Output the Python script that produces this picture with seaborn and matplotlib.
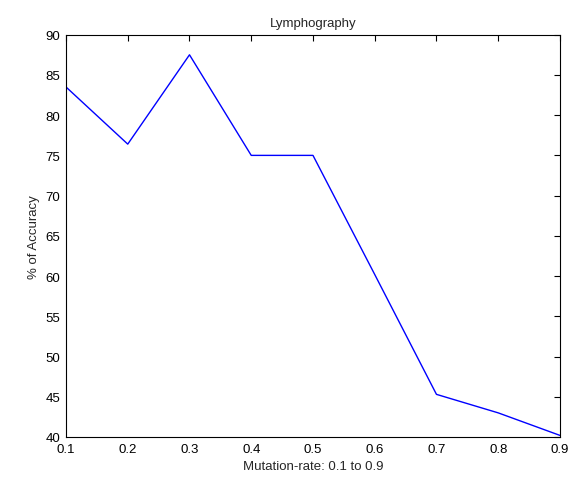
import matplotlib
matplotlib.use("Agg")
import matplotlib.pyplot as plt
import pandas as pd
import seaborn as sns

# Valeurs
mutation_rate = [0.1, 0.2, 0.3, 0.4, 0.5, 0.6, 0.7, 0.8, 0.9]
accuracy = [83.5, 76.4, 87.5, 75.0, 75.0, 60.2, 45.3, 43.0, 40.2]
x_ticks = [0.1, 0.2, 0.3, 0.4, 0.5, 0.6, 0.7, 0.8, 0.9]
y_ticks = [40, 45, 50, 55, 60, 65, 70, 75, 80, 85, 90]

sns.set_theme(style="white")
plt.rcParams["font.family"] = ["Liberation Sans", "DejaVu Sans"]

df = pd.DataFrame({"rate": mutation_rate, "acc": accuracy})

fig = plt.figure(figsize=(5.75, 4.81), dpi=100, facecolor="white")
ax = fig.add_axes([0.1148, 0.0894, 0.859, 0.8364])

sns.lineplot(data=df, x="rate", y="acc", color="#0000ff", linewidth=1.0, ax=ax)

ax.set_xlim(0.1, 0.9)
ax.set_ylim(40, 90)
ax.set_xticks(x_ticks)
ax.set_xticklabels([f"{t:g}" for t in x_ticks])
ax.set_yticks(y_ticks)
ax.tick_params(direction="in", length=4, width=0.8, top=True, right=True,
               labelsize=9.5, colors="black")
ax.tick_params(axis="x", pad=4)
ax.tick_params(axis="y", pad=4)
for s in ax.spines.values():
    s.set_color("black")
    s.set_linewidth(0.8)

ax.set_title("Lymphography", fontsize=9.5, pad=6)
ax.set_xlabel("Mutation-rate: 0.1 to 0.9", fontsize=9.5, labelpad=4)
ax.set_ylabel("% of Accuracy", fontsize=9.5, labelpad=4)

fig.savefig("out.png", dpi=100, facecolor="white")
